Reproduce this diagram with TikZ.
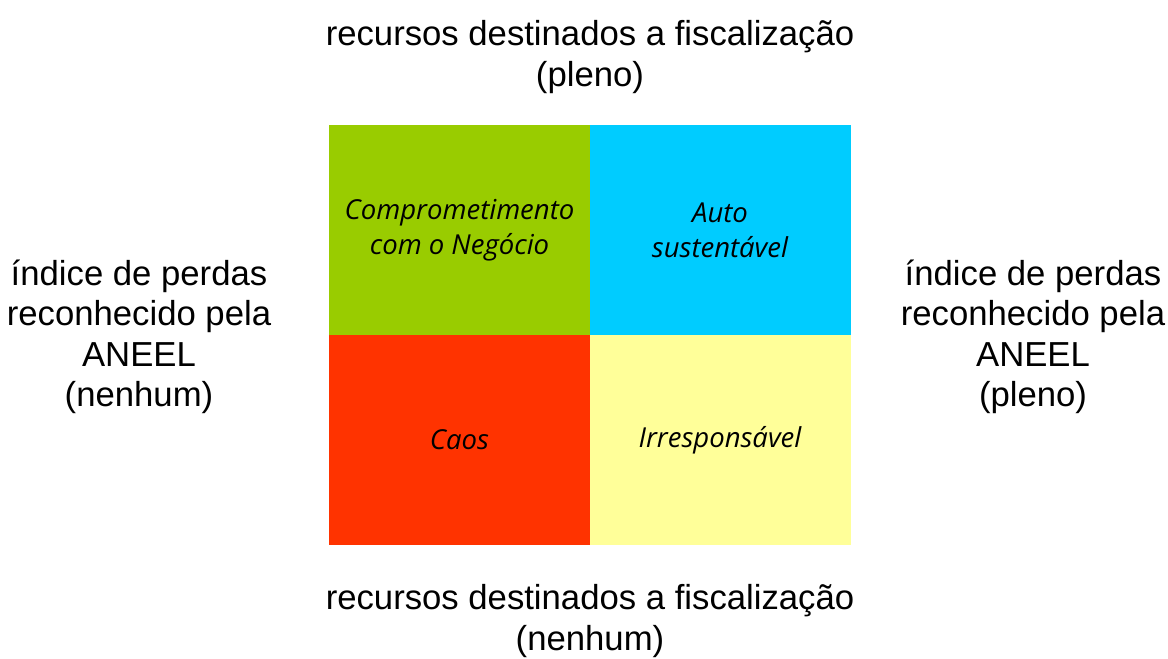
\documentclass[tikz,border=0pt]{standalone}
\usepackage{fontspec}
\setmainfont{Liberation Sans}
\newfontfamily\quadfont{Open Sans}
\usetikzlibrary{positioning}
\definecolor{qgreen}{HTML}{99CC00}
\definecolor{qcyan}{HTML}{00CCFF}
\definecolor{qred}{HTML}{FF3300}
\definecolor{qyellow}{HTML}{FFFF99}

\begin{document}
\begin{tikzpicture}[
    x=1pt, y=-1pt,
    quad/.style={rectangle, inner sep=0pt, minimum width=261pt, minimum height=210pt,
        align=center, font=\quadfont\itshape\fontsize{27.5}{35}\selectfont},
    axislabel/.style={align=center, inner sep=0pt, font=\fontsize{34.7}{40.5}\selectfont}
]
    \useasboundingbox (0,0) rectangle (1168,659);

    \node[quad, fill=qgreen] (qcom) at (459.5,230) {Comprometimento\\com o Negócio};
    \node[quad, fill=qcyan] (qauto) at (720,230) {Auto\\sustentável};
    \node[quad, fill=qred] (qcaos) at (459.5,440) {Caos};
    \node[quad, fill=qyellow] (qirr) at (720,440) {Irresponsável};

    \node[axislabel] (top) at (590,57) {recursos destinados a fiscalização\\(pleno)};
    \node[axislabel] (bottom) at (590,621) {recursos destinados a fiscalização\\(nenhum)};
    \node[axislabel] (left) at (139,337) {índice de perdas\\reconhecido pela\\ANEEL\\(nenhum)};
    \node[axislabel] (right) at (1033,337) {índice de perdas\\reconhecido pela\\ANEEL\\(pleno)};
\end{tikzpicture}
\end{document}
